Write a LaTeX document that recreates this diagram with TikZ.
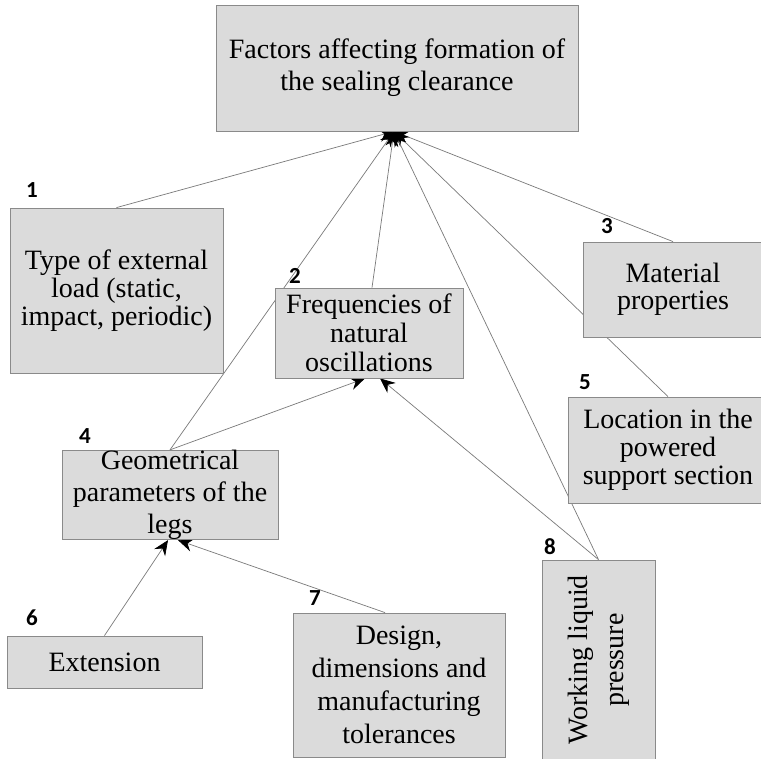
\documentclass[tikz,border=0pt]{standalone}
\usepackage{fontspec}
\setmainfont{Liberation Serif}
\newfontfamily\numfont{Carlito}
\usetikzlibrary{arrows.meta,backgrounds}
\definecolor{boxfill}{HTML}{DBDBDB}
\definecolor{boxline}{HTML}{8A8A8A}
\definecolor{linegray}{HTML}{7A7A7A}
\begin{document}
\begin{tikzpicture}[x=1pt,y=-1pt,
  box/.style={draw=boxline,fill=boxfill,line width=0.8pt,inner sep=0pt,align=center,font=\fontsize{28}{33}\selectfont},
  num/.style={inner sep=0pt,font=\numfont\bfseries\fontsize{23}{24}\selectfont},
  conn/.style={draw=linegray,line width=0.7pt,-{Stealth[length=15pt,width=13pt,inset=5pt,color=black,fill=black]}}]
\clip (0,0) rectangle (761,759);
% boxes
\node[box,minimum width=362,minimum height=126,font=\fontsize{28}{32}\selectfont] (top) at (397,68) {Factors affecting formation of\\the sealing clearance};
\node[box,minimum width=213,minimum height=165,font=\fontsize{28}{28}\selectfont] (b1) at (116.5,290.5) {Type of external\\load (static,\\impact, periodic)};
\node[box,minimum width=188,minimum height=90,font=\fontsize{28}{29}\selectfont] (b2) at (369,333) {Frequencies of\\natural\\oscillations};
\node[box,minimum width=180,minimum height=95,font=\fontsize{28}{27}\selectfont] (b3) at (673,289.5) {Material\\properties};
\node[box,minimum width=216,minimum height=88,font=\fontsize{28}{32}\selectfont] (b4) at (170,495) {Geometrical\\parameters of the\\legs};
\node[box,minimum width=200,minimum height=106,font=\fontsize{28}{28}\selectfont] (b5) at (668,450) {Location in the\\powered\\support section};
\node[box,minimum width=195,minimum height=52] (b6) at (104.5,662) {Extension};
\node[box,minimum width=212,minimum height=144,font=\fontsize{28}{33}\selectfont] (b7) at (399,685) {Design,\\dimensions and\\manufacturing\\tolerances};
\node[box,rotate=90,minimum width=200,minimum height=113,font=\fontsize{28}{36}\selectfont] (b8) at (598.5,660) {Working liquid\\pressure};
% numbers
\node[num] (n1) at (32,190) {1};
\node[num] (n2) at (295,276) {2};
\node[num] (n3) at (607,226) {3};
\node[num] (n4) at (85,436) {4};
\node[num] (n5) at (585,382) {5};
\node[num] (n6) at (32,618) {6};
\node[num] (n7) at (315,598) {7};
\node[num] (n8) at (550,547) {8};
% connectors
\coordinate (hub) at ([xshift=-3pt]top.south);
\begin{scope}[on background layer]
\fill[white] (0,0) rectangle (761,759);
\draw[conn] (b1.north) -- (hub);
\draw[conn] (b4.north) -- (hub);
\draw[conn] ([xshift=3pt]b2.north) -- (hub);
\draw[conn] (b3.north) -- (hub);
\draw[conn] (b5.north) -- (hub);
\draw[conn] (b8.east) -- (hub);
\draw[conn] (b4.north) -- ([xshift=-4pt]b2.south);
\draw[conn] (b8.east) -- ([xshift=11pt]b2.south);
\draw[conn] (b6.north) -- ([xshift=-2pt]b4.south);
\draw[conn] ([xshift=-14pt]b7.north) -- ([xshift=8pt]b4.south);
\end{scope}
\end{tikzpicture}
\end{document}
